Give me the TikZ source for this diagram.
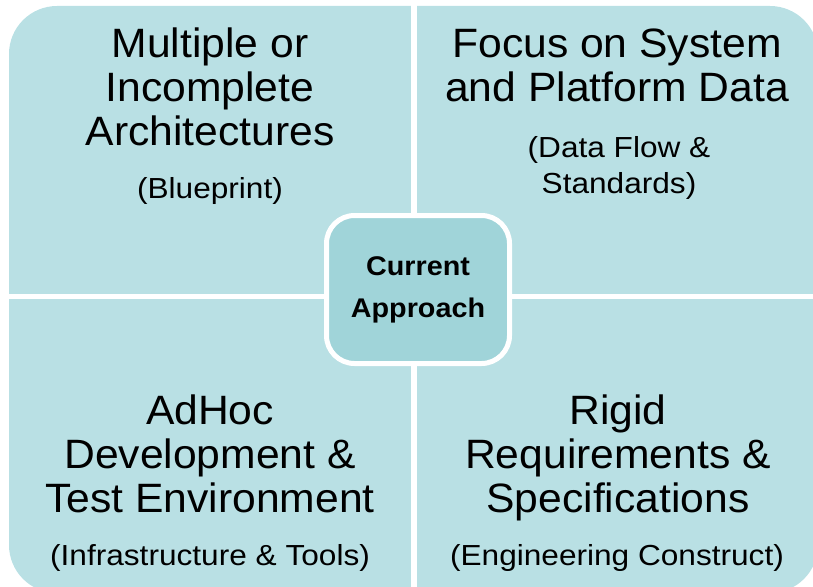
\documentclass[tikz,border=0pt]{standalone}
\usepackage{fontspec}
\setmainfont{Liberation Sans}
\newfontfamily\titlefam{Liberation Sans}[FakeStretch=1.04]
\newfontfamily\subfam{Liberation Sans}[FakeStretch=1.09]
\newfontfamily\centerfam{Liberation Sans}[FakeStretch=1.065]
\definecolor{quadfill}{RGB}{185,224,228}
\definecolor{centerfill}{RGB}{160,212,217}
\begin{document}
\begin{tikzpicture}[x=1pt,y=-1pt,
  title/.style={anchor=north, inner sep=0pt, align=center, font=\titlefam\fontsize{41}{44}\selectfont},
  subtitle/.style={anchor=north, inner sep=0pt, align=center, font=\subfam\fontsize{29}{36}\selectfont},
  centerbox/.style={draw=white, line width=5pt, fill=centerfill, rounded corners=28pt,
    minimum width=183pt, minimum height=148pt, inner sep=0pt, align=center,
    font=\centerfam\fontsize{27}{42}\selectfont\bfseries},
  gap/.style={fill=white}]
\useasboundingbox (0,0) rectangle (813,586);
\clip (0,0) rectangle (813,586);
% panel with four quadrants
\fill[quadfill, rounded corners=48pt] (9,6) rectangle (818,593);
\fill[gap] (411,0) rectangle (417,600);
\fill[gap] (0,294) rectangle (820,299);
% quadrant texts
\node[title] (tlt) at (210,27.5) {Multiple or\\Incomplete\\Architectures};
\node[subtitle] (tls) at (210,177) {(Blueprint)};
\node[title] (trt) at (617,28.5) {Focus on System\\and Platform Data};
\node[subtitle] (trs) at (619,136) {(Data Flow \&\\Standards)};
\node[title] (blt) at (210,394.5) {AdHoc\\Development \&\\Test Environment};
\node[subtitle] (bls) at (210,544) {(Infrastructure \& Tools)};
\node[title] (brt) at (618,394.5) {Rigid\\Requirements \&\\Specifications};
\node[subtitle] (brs) at (617,544) {(Engineering Construct)};
% centre
\node[centerbox] (center) at (418,289.5) {Current\\Approach};
\end{tikzpicture}
\end{document}
